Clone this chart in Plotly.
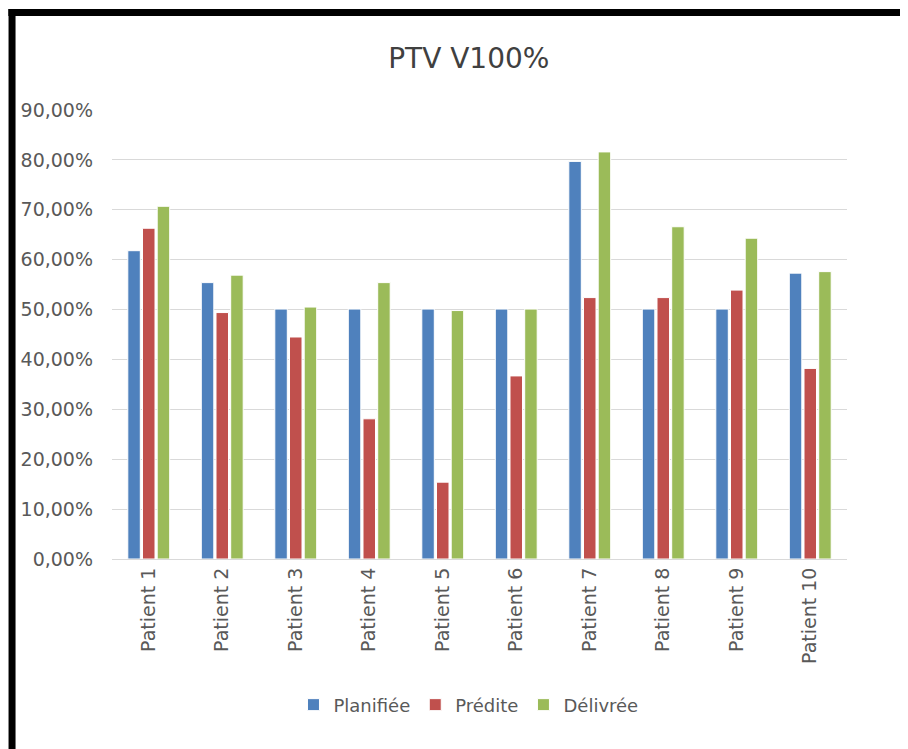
import plotly.graph_objects as go

# Données (fractions)
patients = [f"Patient {i}" for i in range(1, 11)]
planifiee = [0.618, 0.554, 0.501, 0.501, 0.501, 0.501, 0.797, 0.501, 0.501, 0.573]
predite = [0.663, 0.494, 0.445, 0.281, 0.154, 0.367, 0.524, 0.524, 0.539, 0.382]
delivree = [0.707, 0.569, 0.505, 0.554, 0.498, 0.501, 0.816, 0.666, 0.643, 0.576]

series = [
    ("Planifiée", planifiee, "#4F81BD"),
    ("Prédite", predite, "#C0504D"),
    ("Délivrée", delivree, "#9BBB59"),
]

FONT = "DejaVu Sans"
GRIS = "#595959"

fig = go.Figure()
for nom, valeurs, couleur in series:
    fig.add_trace(go.Bar(
        x=patients,
        y=valeurs,
        name=nom,
        marker=dict(color=couleur, line=dict(color="white", width=1)),
    ))

# la page a une marge de 8 px : figure de 900x741
fig.update_layout(
    width=900,
    height=741,
    margin=dict(l=104, r=61, t=102, b=190),
    paper_bgcolor="white",
    plot_bgcolor="white",
    separators=", ",
    font=dict(family=FONT, color=GRIS, size=15),
    title=dict(
        text="PTV V100%",
        x=0.512, xanchor="center",
        y=1 - 50 / 741, yanchor="middle",
        font=dict(family=FONT, size=28, color="#404040"),
    ),
    barmode="group",
    bargap=0.4,
    bargroupgap=0.15,
    legend=dict(
        orientation="h",
        x=0.485, xanchor="center",
        y=-0.325, yanchor="middle",
        font=dict(family=FONT, size=18, color=GRIS),
        itemwidth=30,
        traceorder="normal",
    ),
    showlegend=True,
)

fig.update_yaxes(
    range=[0, 0.9],
    dtick=0.1,
    tickformat=".2%",
    showgrid=True,
    gridcolor="#D9D9D9",
    gridwidth=1,
    zeroline=True,
    zerolinecolor="#D9D9D9",
    zerolinewidth=1,
    showline=False,
    ticks="",
    ticklabelstandoff=18,
    tickfont=dict(family=FONT, size=19, color=GRIS),
)

fig.update_xaxes(
    tickangle=-90,
    showgrid=False,
    showline=True,
    linecolor="#D9D9D9",
    ticks="",
    tickfont=dict(family=FONT, size=19, color=GRIS),
)

# Cadre noir : bords gauche et haut seulement (le reste sort de l'image)
cadre = dict(type="line", xref="paper", yref="paper",
             line=dict(color="black", width=7), layer="above")
fig.add_shape(x0=-0.136, x1=-0.136, y0=-0.6, y1=1.225, **cadre)
fig.add_shape(x0=-0.141, x1=1.5, y0=1.217, y1=1.217, **cadre)

fig.write_html("out.html", config={"displayModeBar": False})
